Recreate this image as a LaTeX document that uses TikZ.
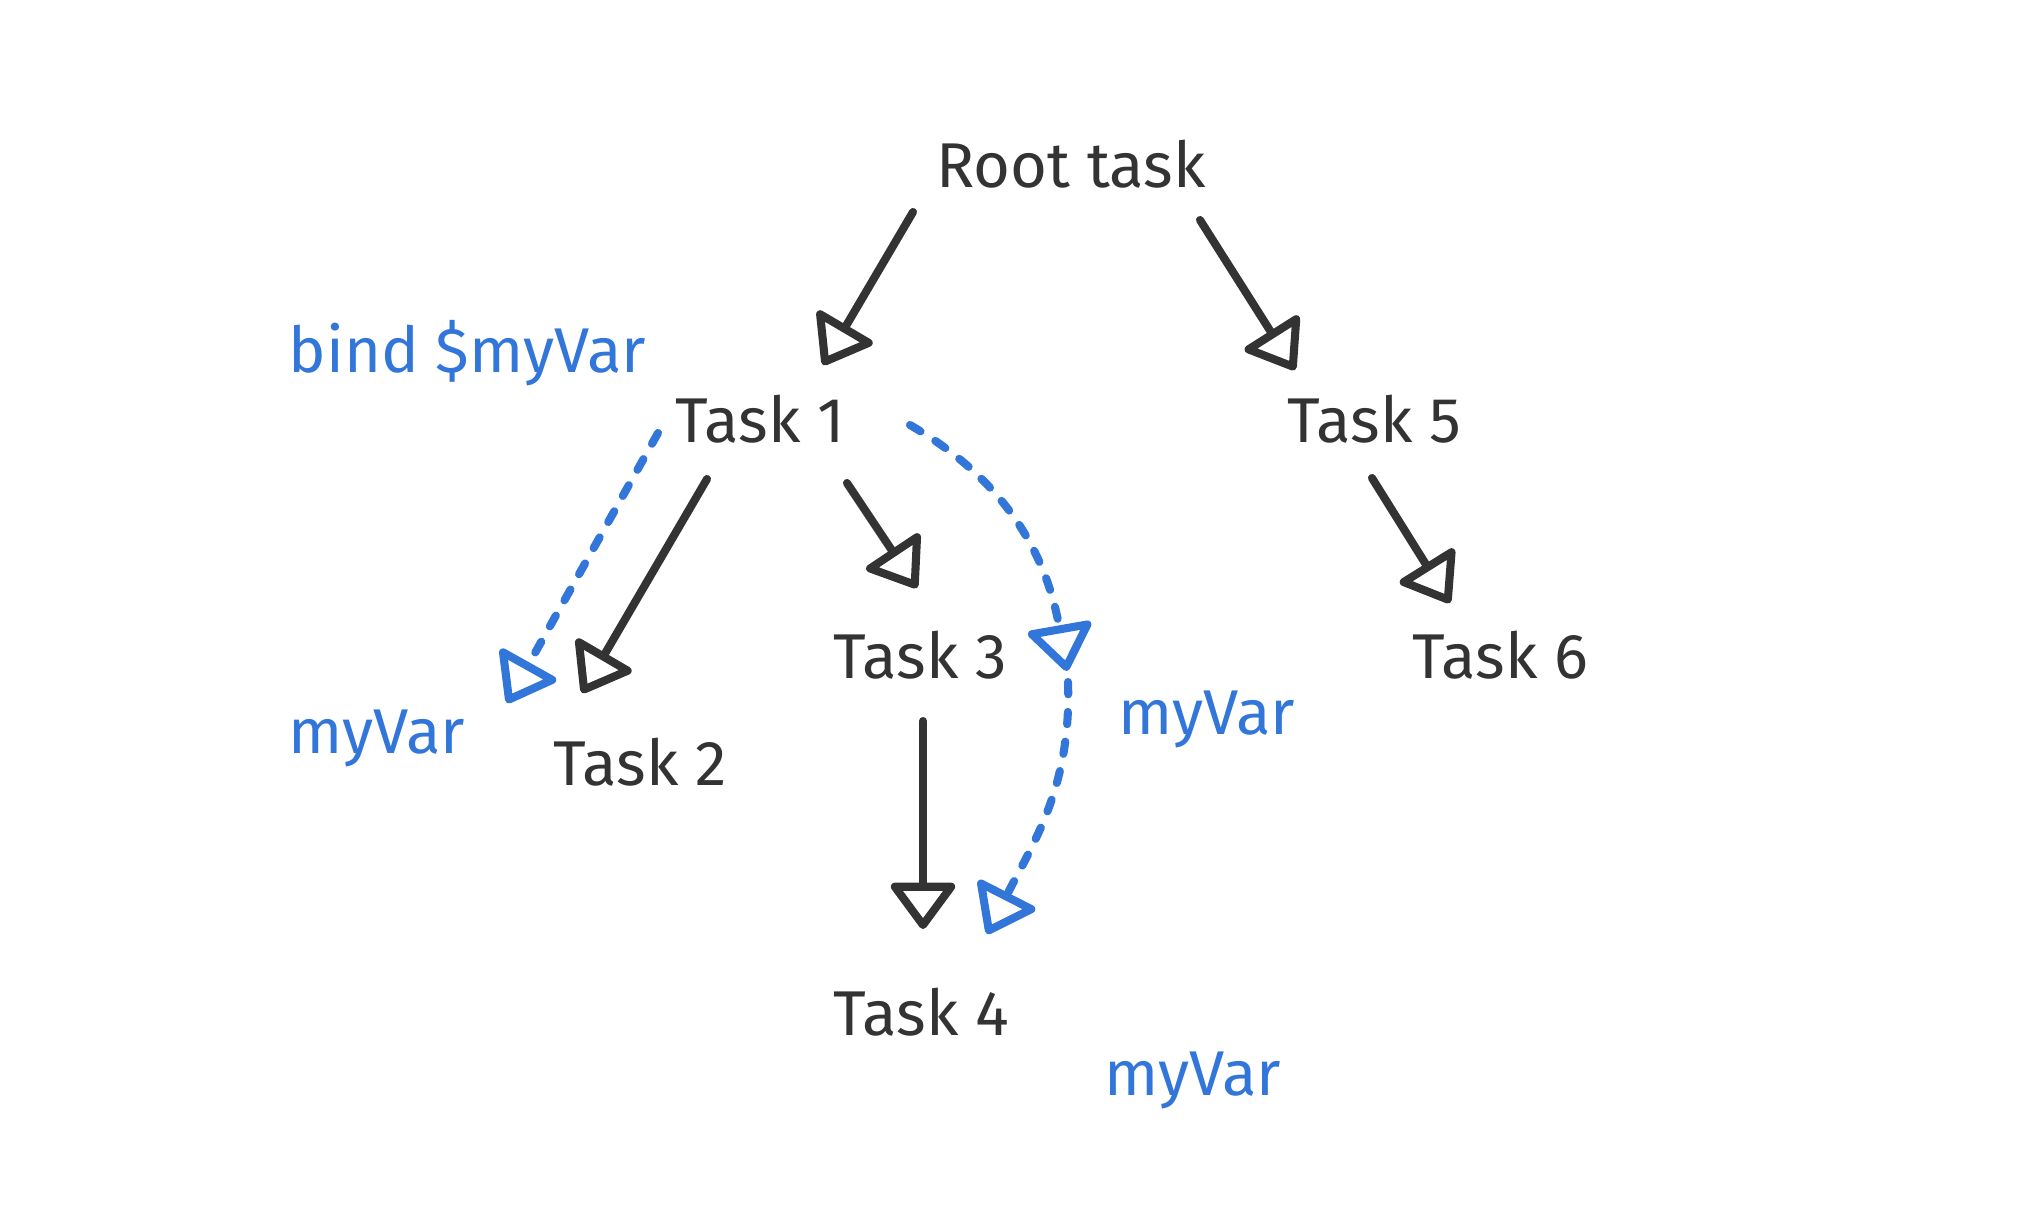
\documentclass[tikz,border=0pt]{standalone}
\usepackage{fontspec}
\setmainfont{Fira Sans}
\usepackage{tikz}
\usetikzlibrary{arrows.meta, positioning}

\definecolor{ink}{RGB}{51,51,51}
\definecolor{bindblue}{RGB}{50,118,218}

\begin{document}
\begin{tikzpicture}[x=0.01cm, y=-0.01cm,
    task/.style={text=ink, font=\fontsize{18pt}{22pt}\selectfont, inner sep=0pt, anchor=base},
    varlabel/.style={text=bindblue, font=\fontsize{18pt}{22pt}\selectfont, inner sep=0pt, anchor=base west},
    flow/.style={ink, line width=2.3pt, line cap=round, -{Triangle[open, round, length=14pt, width=20pt]}},
    bindflow/.style={bindblue, line width=2.3pt, line cap=round, dash pattern=on 3.5pt off 5pt,
        -{Triangle[open, round, length=14pt, width=20pt]}}]
    \useasboundingbox (0,0) rectangle (2032,1224);

    \node[task] (root) at (1071,187) {Root task};
    \node[task] (t1) at (760,442) {Task 1};
    \node[task] (t5) at (1374,442) {Task 5};
    \node[task] (t3) at (920,678) {Task 3};
    \node[task] (t6) at (1500,678) {Task 6};
    \node[task] (t2) at (640,785) {Task 2};
    \node[task] (t4) at (921,1035) {Task 4};

    \node[varlabel] (bindlbl) at (288,372) {bind \$myVar};
    \node[varlabel] (varlbl2) at (288,753) {myVar};
    \node[varlabel] (varlbl3) at (1118,734) {myVar};
    \node[varlabel] (varlbl4) at (1104,1095) {myVar};

    \draw[flow] ([shift={(-158,25)}]root.base) -- ([shift={(63,-77)}]t1.base);
    \draw[flow] ([shift={(129,33)}]root.base) -- ([shift={(-79,-72)}]t5.base);
    \draw[flow] ([shift={(-53,37)}]t1.base) -- ([shift={(-58,-92)}]t2.base);
    \draw[flow] ([shift={(87,41)}]t1.base) -- ([shift={(-3,-90)}]t3.base);
    \draw[flow] ([shift={(3,43)}]t3.base) -- ([shift={(2,-106)}]t4.base);
    \draw[flow] ([shift={(-2,36)}]t5.base) -- ([shift={(-50,-75)}]t6.base);

    % variable passing
    \draw[bindflow] ([shift={(-102,-9)}]t1.base) -- ([shift={(-133,-82)}]t2.base);
    \draw[bindflow] ([shift={(150,-17)}]t1.base) to[out=-30, in=100] ([shift={(147,-7)}]t3.base);
    \draw[bindflow] ([shift={(148,4)}]t3.base) to[out=-88, in=63] ([shift={(66,-101)}]t4.base);
\end{tikzpicture}
\end{document}
